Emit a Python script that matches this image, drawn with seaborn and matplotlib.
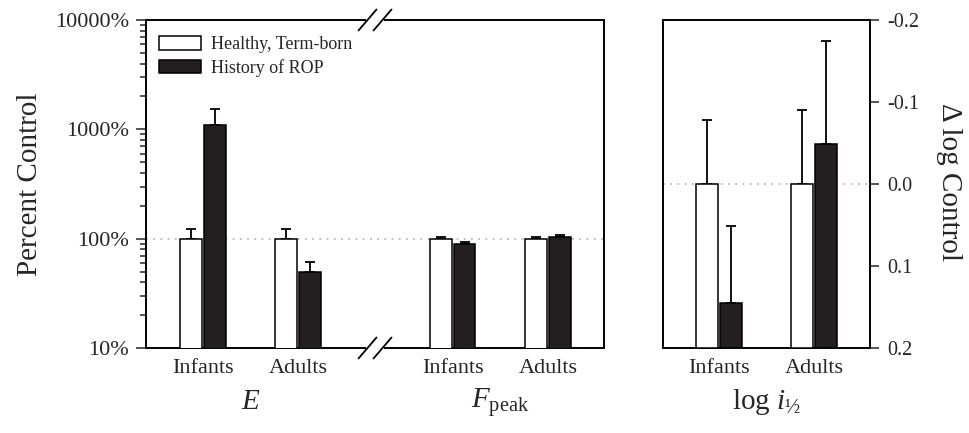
import matplotlib
matplotlib.use("Agg")
import numpy as np
import pandas as pd
import seaborn as sns
import matplotlib.pyplot as plt
import matplotlib.transforms as mtransforms
from matplotlib.patches import Patch
from matplotlib.ticker import FixedLocator, FuncFormatter, LogLocator, NullFormatter

# ---------------- data ----------------
ages = ["Infants", "Adults"]
groups = ["Healthy, Term-born", "History of ROP"]
group_colors = ["white", "#231f20"]

# E (percent control)
E_healthy = [100, 100]
E_healthy_top = [122, 122]
E_rop = [1090, 50]
E_rop_top = [1520, 61]
# F_peak (percent control)
F_healthy = [100, 100]
F_healthy_top = [104, 103]
F_rop = [90, 104]
F_rop_top = [93, 107]
# log i_1/2 (delta log control)
i_healthy = [0.0, 0.0]
i_healthy_top = [-0.078, -0.090]
i_rop = [0.145, -0.049]
i_rop_top = [0.051, -0.174]

left_ticks = [10, 100, 1000, 10000]
left_tick_labels = ["10%", "100%", "1000%", "10000%"]
right_ticks = [0.2, 0.1, 0.0, -0.1, -0.2]

# ---------------- style ----------------
sns.set_theme(style="ticks")
plt.rcParams["font.family"] = ["Liberation Serif", "DejaVu Serif"]
plt.rcParams["mathtext.fontset"] = "custom"
plt.rcParams["mathtext.rm"] = "Liberation Serif"
plt.rcParams["mathtext.it"] = "Liberation Serif:italic"
plt.rcParams["axes.linewidth"] = 1.4

fig = plt.figure(figsize=(9.69, 4.33), dpi=100)
W, H = 969, 433
axL = fig.add_axes([146 / W, 1 - 348 / H, (604 - 146) / W, (348 - 20) / H])
axR = fig.add_axes([663 / W, 1 - 348 / H, (870 - 663) / W, (348 - 20) / H])

TICK_FS = 16
RTICK_FS = 14.5
LABEL_FS = 21
BAR_W = 0.5
GAP = 0.1
OFF = BAR_W / 4

# ---------------- left panel ----------------
left_pos = [0.0, 1.0, 2.63, 3.63]
rows = []
for (vals, tops, g) in [(E_healthy + F_healthy, E_healthy_top + F_healthy_top, groups[0]),
                        (E_rop + F_rop, E_rop_top + F_rop_top, groups[1])]:
    for p, v, t in zip(left_pos, vals, tops):
        rows.append(dict(pos=p, group=g, value=v, top=t))
dfL = pd.DataFrame(rows)

axL.set_yscale("log")
sns.barplot(data=dfL, x="pos", y="value", hue="group", hue_order=groups,
            palette=dict(zip(groups, group_colors)), native_scale=True,
            width=BAR_W, gap=GAP, saturation=1, errorbar=None,
            edgecolor="black", linewidth=1.1, legend=False, ax=axL, zorder=3)

for i, g in enumerate(groups):
    sub = dfL[dfL.group == g]
    xs = sub.pos.values + (-OFF if i == 0 else OFF)
    err = sub.top.values - sub.value.values
    axL.errorbar(xs, sub.value.values, yerr=[np.zeros_like(err), err], fmt="none",
                 ecolor="black", elinewidth=1.3, capsize=3.5, capthick=1.3, zorder=2)

axL.axhline(100, color="#bbbbbb", ls=(0, (1, 3)), lw=1.3, zorder=1)
axL.set_ylim(10, 10000)
axL.set_xlim(-0.6, 4.22)
axL.yaxis.set_major_locator(FixedLocator(left_ticks))
axL.set_yticklabels(left_tick_labels)
axL.yaxis.set_minor_locator(LogLocator(base=10, subs=np.arange(2, 10)))
axL.yaxis.set_minor_formatter(NullFormatter())
axL.tick_params(axis="y", which="major", length=7, width=1.1, labelsize=TICK_FS, direction="out", pad=5)
axL.tick_params(axis="y", which="minor", length=4.3, width=1.1, direction="out")
axL.set_xticks(left_pos)
axL.set_xticklabels(ages * 2)
axL.tick_params(axis="x", length=0, labelsize=TICK_FS, pad=8)
axL.set_xlabel("")
axL.set_ylabel("")
for s in axL.spines.values():
    s.set_visible(True)
    s.set_linewidth(1.4)
    s.set_color("black")

# break marks on top and bottom spines
bx = 0.5
dx = 1.0 / 458
dy = 1.0 / 328
for yy in (0.0, 1.0):
    axL.plot([bx - 9 * dx, bx + 9 * dx], [yy, yy], transform=axL.transAxes, color="white",
             lw=3, clip_on=False, zorder=5, solid_capstyle="butt")
    for cx in (bx - 7.5 * dx, bx + 7.5 * dx):
        axL.plot([cx - 9 * dx, cx + 9 * dx], [yy - 10.5 * dy, yy + 10.5 * dy],
                 transform=axL.transAxes, color="black", lw=1.3, clip_on=False, zorder=6)

handles = [Patch(facecolor=c, edgecolor="black", linewidth=1.1) for c in group_colors]
axL.legend(handles, groups, loc="upper left", bbox_to_anchor=(0.029, 0.95), frameon=False,
           fontsize=13, handlelength=2.3, handleheight=0.75, handletextpad=0.55,
           labelspacing=0.3, borderaxespad=0, borderpad=0)

blendL = mtransforms.blended_transform_factory(axL.transData, axL.transAxes)
axL.text(0.5, -0.165, "$E$", transform=blendL, ha="center", va="center", fontsize=LABEL_FS)
axL.text((left_pos[2] + left_pos[3]) / 2, -0.165, r"$F_{\mathrm{peak}}$", transform=blendL,
         ha="center", va="center", fontsize=LABEL_FS)

# ---------------- right panel ----------------
BASE = 0.2
right_pos = [0.0, 1.0]
rows = []
for (vals, tops, g) in [(i_healthy, i_healthy_top, groups[0]), (i_rop, i_rop_top, groups[1])]:
    for p, v, t in zip(right_pos, vals, tops):
        rows.append(dict(pos=p, group=g, height=BASE - v, top=BASE - t))
dfR = pd.DataFrame(rows)

sns.barplot(data=dfR, x="pos", y="height", hue="group", hue_order=groups,
            palette=dict(zip(groups, group_colors)), native_scale=True,
            width=BAR_W, gap=GAP, saturation=1, errorbar=None,
            edgecolor="black", linewidth=1.1, legend=False, ax=axR, zorder=3)
for i, g in enumerate(groups):
    sub = dfR[dfR.group == g]
    xs = sub.pos.values + (-OFF if i == 0 else OFF)
    err = sub.top.values - sub.height.values
    axR.errorbar(xs, sub.height.values, yerr=[np.zeros_like(err), err], fmt="none",
                 ecolor="black", elinewidth=1.3, capsize=3.5, capthick=1.3, zorder=2)

axR.axhline(BASE - 0.0, color="#bbbbbb", ls=(0, (1, 3)), lw=1.3, zorder=1)
axR.set_ylim(0, 0.4)
axR.set_xlim(-0.59, 1.59)
axR.yaxis.set_major_locator(FixedLocator([BASE - t for t in right_ticks]))
axR.yaxis.set_major_formatter(FuncFormatter(lambda y, p: f"{round(BASE - y, 1) + 0.0:.1f}"))
axR.yaxis.tick_right()
axR.yaxis.set_label_position("right")
axR.tick_params(axis="y", which="major", length=6.5, width=1.1, labelsize=RTICK_FS,
                direction="out", pad=6, left=False, right=True)
axR.set_xticks(right_pos)
axR.set_xticklabels(ages)
axR.tick_params(axis="x", length=0, labelsize=TICK_FS, pad=8)
axR.set_xlabel("")
axR.set_ylabel("")
for s in axR.spines.values():
    s.set_visible(True)
    s.set_linewidth(1.4)
    s.set_color("black")

blendR = mtransforms.blended_transform_factory(axR.transData, axR.transAxes)
axR.text(0.5, -0.165, r"log $i_{\mathrm{½}}$", transform=blendR, ha="center", va="center",
         fontsize=LABEL_FS)

fig.text(30 / W, 1 - 184 / H, "Percent Control", rotation=90, ha="center", va="center",
         fontsize=LABEL_FS)
fig.text(949 / W, 1 - 182 / H, "Δ log Control", rotation=270, ha="center", va="center",
         fontsize=LABEL_FS)

fig.savefig("out.png", dpi=100)
